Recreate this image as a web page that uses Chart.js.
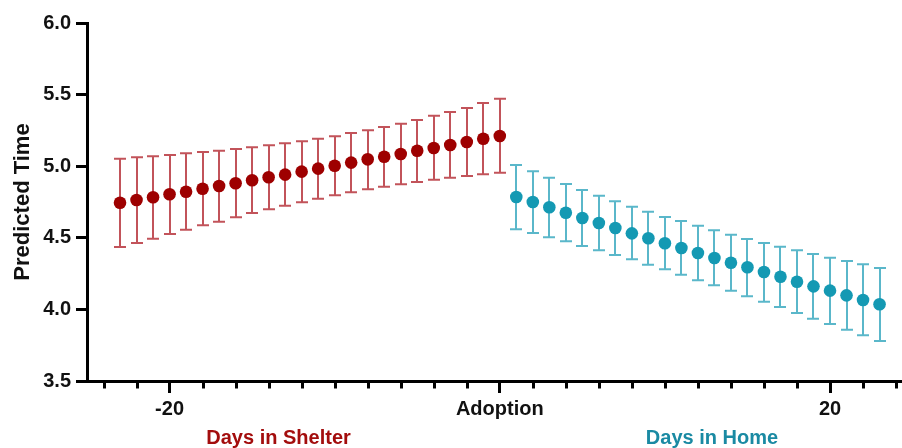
<!DOCTYPE html>
<html>
<head>
<meta charset="utf-8">
<style>
  html, body { margin: 0; padding: 0; background: #ffffff; }
  #wrap { position: relative; width: 902px; height: 448px; }
</style>
<script src="https://cdn.jsdelivr.net/npm/chart.js@4/dist/chart.umd.min.js"></script>
</head>
<body>
<div id="wrap"><canvas id="chart"></canvas></div>
<script>
// Days relative to adoption
const shelterDays = [-23, -22, -21, -20, -19, -18, -17, -16, -15, -14, -13, -12,
                     -11, -10, -9, -8, -7, -6, -5, -4, -3, -2, -1, 0];
const shelterMean = [4.745, 4.764, 4.783, 4.804, 4.822, 4.843, 4.862, 4.881, 4.902, 4.923, 4.941, 4.962,
                     4.983, 5.003, 5.025, 5.048, 5.066, 5.085, 5.108, 5.127, 5.148, 5.169, 5.192, 5.211];
const shelterLower = [4.436, 4.464, 4.494, 4.527, 4.557, 4.587, 4.612, 4.643, 4.673, 4.699, 4.724, 4.748,
                      4.773, 4.797, 4.818, 4.839, 4.857, 4.874, 4.890, 4.906, 4.920, 4.932, 4.943, 4.955];
const shelterUpper = [5.052, 5.062, 5.069, 5.078, 5.090, 5.099, 5.108, 5.120, 5.132, 5.146, 5.160, 5.174,
                      5.192, 5.209, 5.232, 5.251, 5.274, 5.297, 5.323, 5.353, 5.378, 5.406, 5.441, 5.471];

const homeDays = [1, 2, 3, 4, 5, 6, 7, 8, 9, 10, 11, 12, 13, 14, 15, 16, 17, 18, 19, 20, 21, 22, 23];
const homeMean = [4.785, 4.750, 4.713, 4.675, 4.638, 4.603, 4.568, 4.531, 4.497, 4.462, 4.429, 4.394,
                  4.359, 4.326, 4.294, 4.261, 4.228, 4.193, 4.161, 4.131, 4.098, 4.066, 4.036];
const homeLower = [4.559, 4.534, 4.503, 4.476, 4.443, 4.413, 4.380, 4.350, 4.312, 4.280, 4.242, 4.203,
                   4.168, 4.131, 4.091, 4.054, 4.017, 3.975, 3.935, 3.898, 3.858, 3.819, 3.779];
const homeUpper = [5.008, 4.964, 4.920, 4.876, 4.834, 4.794, 4.755, 4.717, 4.682, 4.645, 4.617, 4.584,
                   4.552, 4.522, 4.492, 4.464, 4.438, 4.413, 4.387, 4.361, 4.338, 4.315, 4.289];

// Axis ticks
const majorTickDays = [-20, 0, 20];
const majorTickLabels = ['-20', 'Adoption', '20'];
const minorTickDays = [-24, -22, -18, -16, -14, -12, -10, -8, -6, -4, -2,
                       2, 4, 6, 8, 10, 12, 14, 16, 18, 22, 24];
const yTicks = [3.5, 4.0, 4.5, 5.0, 5.5, 6.0];

// Group captions under the axis, placed at a day position
const groupCaptions = [
  { text: 'Days in Shelter', at: -13.4, color: '#a30d0d' },
  { text: 'Days in Home', at: 12.85, color: '#1a8aa3' }
];

const SHELTER_DOT = '#9e0000';
const SHELTER_BAR = 'rgba(170, 16, 26, 0.72)';
const HOME_DOT = '#1499b3';
const HOME_BAR = 'rgba(20, 152, 180, 0.70)';
const FONT = "'Liberation Sans', Arial, Helvetica, sans-serif";

Chart.defaults.font.family = FONT;
Chart.defaults.color = '#111111';

const toPoints = (xs, ys) => xs.map((x, i) => ({ x: x, y: ys[i] }));

const errorBarGroups = [
  { days: shelterDays, lower: shelterLower, upper: shelterUpper, color: SHELTER_BAR },
  { days: homeDays, lower: homeLower, upper: homeUpper, color: HOME_BAR }
];

// Vertical whiskers with end caps, drawn beneath the points
const errorBars = {
  id: 'errorBars',
  beforeDatasetsDraw(chart) {
    const { ctx, scales: { x, y } } = chart;
    ctx.save();
    ctx.lineWidth = 2;
    ctx.lineCap = 'butt';
    errorBarGroups.forEach(g => {
      ctx.strokeStyle = g.color;
      g.days.forEach((d, i) => {
        const px = Math.round(x.getPixelForValue(d));
        const yLo = y.getPixelForValue(g.lower[i]);
        const yHi = y.getPixelForValue(g.upper[i]);
        ctx.beginPath();
        ctx.moveTo(px, yHi);
        ctx.lineTo(px, yLo);
        ctx.moveTo(px - 6, yHi);
        ctx.lineTo(px + 6, yHi);
        ctx.moveTo(px - 6, yLo);
        ctx.lineTo(px + 6, yLo);
        ctx.stroke();
      });
    });
    ctx.restore();
  }
};

// Short unlabeled ticks every two days along the x axis
const minorTicks = {
  id: 'minorTicks',
  afterDraw(chart) {
    const { ctx, scales: { x }, chartArea } = chart;
    ctx.save();
    ctx.strokeStyle = '#000000';
    ctx.lineWidth = 3;
    minorTickDays.forEach(d => {
      const px = Math.round(x.getPixelForValue(d)) + 0.5;
      ctx.beginPath();
      ctx.moveTo(px, chartArea.bottom);
      ctx.lineTo(px, chartArea.bottom + 7.5);
      ctx.stroke();
    });
    ctx.restore();
  }
};

const captions = {
  id: 'captions',
  afterDraw(chart) {
    const { ctx, scales: { x } } = chart;
    ctx.save();
    ctx.font = 'bold 20px ' + FONT;
    ctx.textAlign = 'center';
    ctx.textBaseline = 'alphabetic';
    groupCaptions.forEach(c => {
      ctx.fillStyle = c.color;
      ctx.fillText(c.text, x.getPixelForValue(c.at), 444);
    });
    ctx.restore();
  }
};

new Chart(document.getElementById('chart'), {
  type: 'scatter',
  data: {
    datasets: [
      {
        label: 'Days in Shelter',
        data: toPoints(shelterDays, shelterMean),
        pointRadius: 6.3,
        pointHoverRadius: 6.3,
        pointBackgroundColor: SHELTER_DOT,
        pointBorderWidth: 0,
        borderColor: SHELTER_DOT,
        showLine: false
      },
      {
        label: 'Days in Home',
        data: toPoints(homeDays, homeMean),
        pointRadius: 6.3,
        pointHoverRadius: 6.3,
        pointBackgroundColor: HOME_DOT,
        pointBorderWidth: 0,
        borderColor: HOME_DOT,
        showLine: false
      }
    ]
  },
  options: {
    responsive: true,
    maintainAspectRatio: false,
    animation: false,
    layout: { autoPadding: false, padding: { top: 23, right: 0, bottom: 0, left: 0 } },
    plugins: {
      legend: { display: false },
      tooltip: { enabled: false }
    },
    scales: {
      x: {
        type: 'linear',
        min: -25,
        max: 24.36,
        afterFit(axis) {
          axis.height = 67;
          axis.paddingLeft = 0;
          axis.paddingRight = 0;
        },
        afterBuildTicks(axis) { axis.ticks = majorTickDays.map(v => ({ value: v })); },
        border: { display: true, color: '#000000', width: 3 },
        grid: {
          display: true,
          drawOnChartArea: false,
          drawTicks: true,
          tickLength: 12,
          tickWidth: 3,
          tickColor: '#000000'
        },
        ticks: {
          autoSkip: false,
          maxRotation: 0,
          padding: 4,
          color: '#111111',
          font: { size: 20, weight: 'bold' },
          callback(value) {
            const i = majorTickDays.indexOf(value);
            return i >= 0 ? majorTickLabels[i] : '';
          }
        }
      },
      y: {
        type: 'linear',
        min: 3.5,
        max: 6.0,
        afterFit(axis) { axis.width = 87; },
        afterBuildTicks(axis) { axis.ticks = yTicks.map(v => ({ value: v })); },
        border: { display: true, color: '#000000', width: 3 },
        grid: {
          display: true,
          drawOnChartArea: false,
          drawTicks: true,
          tickLength: 11,
          tickWidth: 3,
          tickColor: '#000000'
        },
        ticks: {
          padding: 5,
          color: '#111111',
          font: { size: 20, weight: 'bold' },
          callback(value) { return Number(value).toFixed(1); }
        },
        title: {
          display: true,
          text: 'Predicted Time',
          color: '#111111',
          font: { size: 22, weight: 'bold' },
          padding: { top: 10, bottom: 0 }
        }
      }
    }
  },
  plugins: [errorBars, minorTicks, captions]
});
</script>
</body>
</html>
